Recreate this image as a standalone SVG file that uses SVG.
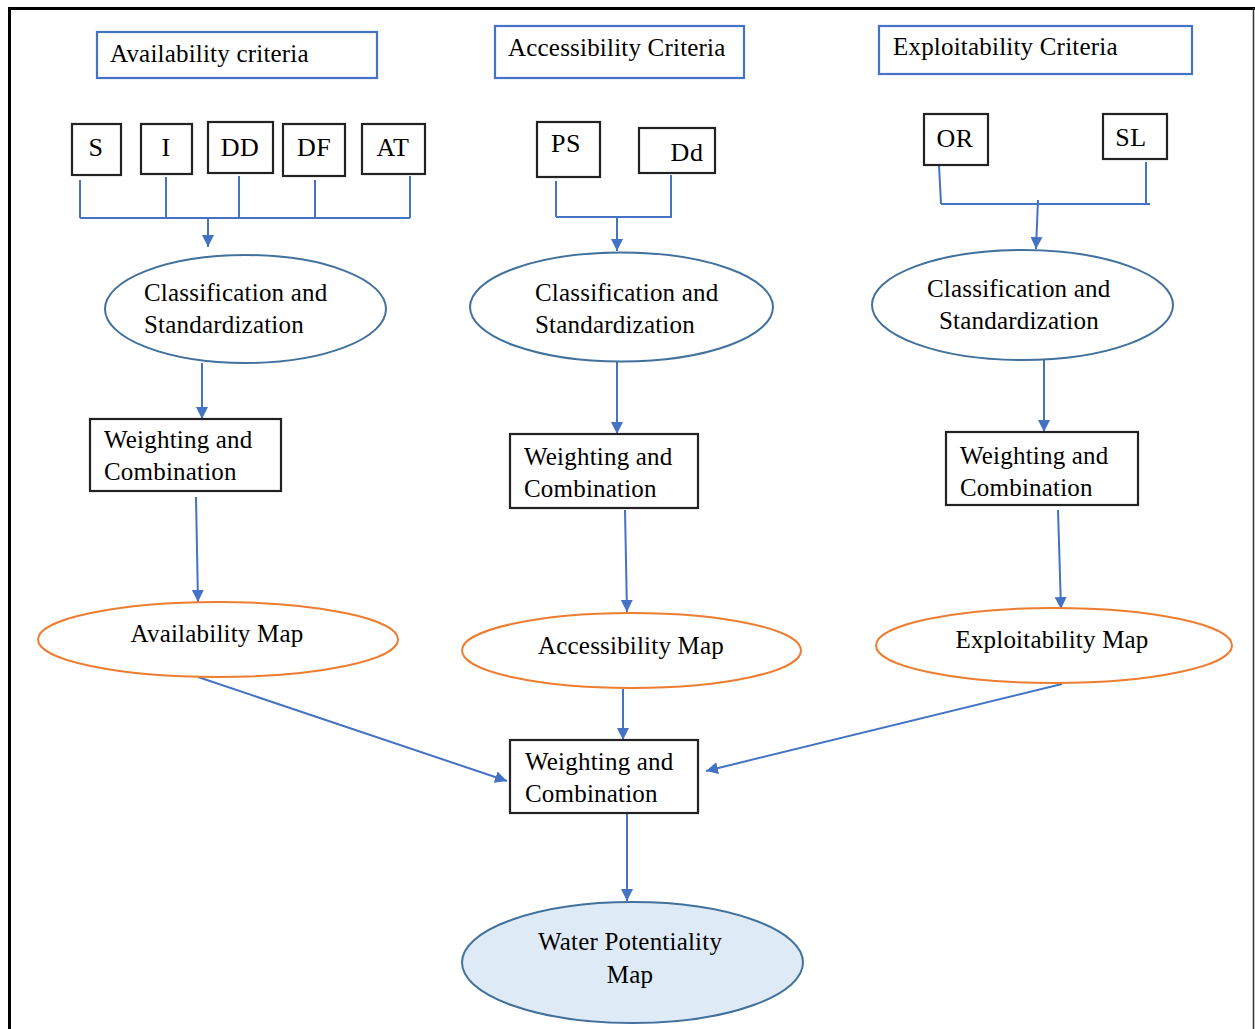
<svg xmlns="http://www.w3.org/2000/svg" width="1255" height="1029" viewBox="0 0 1255 1029">
<defs>
<marker id="ah" markerUnits="userSpaceOnUse" markerWidth="13" markerHeight="13" refX="12" refY="6.5" orient="auto">
<path d="M0,0.5 L12,6.5 L0,12.5 z" fill="#4472c4"/>
</marker>
<style>
text{font-family:"Liberation Serif","Times New Roman",serif;font-size:25px;letter-spacing:0.2px;fill:#000}
.sm{font-size:26px;letter-spacing:0.5px}
.crit{fill:#fff;stroke:#4472c4;stroke-width:2.2}
.box{fill:#fff;stroke:#222;stroke-width:2.2}
.cls{fill:#fff;stroke:#41719c;stroke-width:2}
.map{fill:#fff;stroke:#ed7d31;stroke-width:2}
.wp{fill:#deebf7;stroke:#41719c;stroke-width:2}
.ln{fill:none;stroke:#4472c4;stroke-width:2}
.ar{fill:none;stroke:#4472c4;stroke-width:2;marker-end:url(#ah)}
.c{text-anchor:middle}
</style>
</defs>
<rect width="1255" height="1029" fill="#fff"/>
<g id="frame">
<line x1="9.5" y1="7" x2="9.5" y2="1029" stroke="#000" stroke-width="3"/>
<line x1="8" y1="8.5" x2="1255" y2="8.5" stroke="#000" stroke-width="3"/>
<line x1="1253.5" y1="8" x2="1253.5" y2="1029" stroke="#333" stroke-width="1.5"/>
</g>
<g id="connectors">
<path class="ln" d="M80,180 V218 M166,177 V218 M239,176 V218 M315,180 V218 M410,176 V218 M80,218 H410"/>
<path class="ar" d="M208,218 V247"/>
<path class="ln" d="M556,181 V217 M671,175 V217 M556,217 H672"/>
<path class="ar" d="M617,217 V251"/>
<path class="ln" d="M939,165 L941,204 M1146,162 V204 M941,204 H1150"/>
<path class="ar" d="M1038,200 L1036,249"/>
<path class="ar" d="M202,363 V419"/>
<path class="ar" d="M617,362 V434"/>
<path class="ar" d="M1044,360 V432"/>
<path class="ar" d="M196,497 L198,602"/>
<path class="ar" d="M625,510 L627,612"/>
<path class="ar" d="M1058,510 L1061,609"/>
<path class="ar" d="M198,677 L507,781"/>
<path class="ar" d="M623,689 V740"/>
<path class="ar" d="M1062,684 L706,771"/>
<path class="ar" d="M627,814 V901"/>
</g>
<g id="availability-criteria"><rect class="crit" x="97" y="32" width="280" height="46"/><text x="110" y="62">Availability criteria</text></g>
<g id="accessibility-criteria"><rect class="crit" x="495" y="26" width="249" height="52"/><text x="508" y="56">Accessibility Criteria</text></g>
<g id="exploitability-criteria"><rect class="crit" x="879" y="26" width="313" height="48"/><text x="893" y="55">Exploitability Criteria</text></g>
<g id="S"><rect class="box" x="72" y="124" width="49" height="51"/><text class="c sm" x="96" y="156">S</text></g>
<g id="I"><rect class="box" x="141" y="124" width="51" height="50"/><text class="c sm" x="166" y="156">I</text></g>
<g id="DD"><rect class="box" x="208" y="122" width="65" height="51"/><text class="c sm" x="240" y="156">DD</text></g>
<g id="DF"><rect class="box" x="283" y="124" width="62" height="52"/><text class="c sm" x="314" y="156">DF</text></g>
<g id="AT"><rect class="box" x="362" y="124" width="63" height="50"/><text class="c sm" x="393" y="156">AT</text></g>
<g id="PS"><rect class="box" x="537" y="122" width="63" height="55"/><text class="c sm" x="566" y="152">PS</text></g>
<g id="Dd"><rect class="box" x="639" y="128" width="76" height="45"/><text class="c sm" x="687" y="161">Dd</text></g>
<g id="OR"><rect class="box" x="924" y="114" width="64" height="51"/><text class="c sm" x="955" y="147">OR</text></g>
<g id="SL"><rect class="box" x="1103" y="114" width="64" height="45"/><text class="c sm" x="1131" y="146">SL</text></g>
<g id="cls-left"><ellipse class="cls" cx="245.5" cy="309" rx="140.5" ry="54"/><text x="144" y="301">Classification and</text><text x="144" y="333">Standardization</text></g>
<g id="cls-mid"><ellipse class="cls" cx="621.5" cy="307" rx="151.5" ry="54.5"/><text x="535" y="301">Classification and</text><text x="535" y="333">Standardization</text></g>
<g id="cls-right"><ellipse class="cls" cx="1022.5" cy="305" rx="150.5" ry="55"/><text x="927" y="297">Classification and</text><text x="939" y="329">Standardization</text></g>
<g id="wc-left"><rect class="box" x="90" y="419" width="191" height="72"/><text x="104" y="448">Weighting and</text><text x="104" y="480">Combination</text></g>
<g id="wc-mid"><rect class="box" x="510" y="434" width="188" height="74"/><text x="524" y="465">Weighting and</text><text x="524" y="497">Combination</text></g>
<g id="wc-right"><rect class="box" x="946" y="432" width="192" height="73"/><text x="960" y="464">Weighting and</text><text x="960" y="496">Combination</text></g>
<g id="availability-map"><ellipse class="map" cx="218" cy="639.5" rx="180" ry="37.5"/><text class="c" x="217" y="642">Availability Map</text></g>
<g id="accessibility-map"><ellipse class="map" cx="631.5" cy="650.5" rx="169.5" ry="37.5"/><text class="c" x="631" y="654">Accessibility Map</text></g>
<g id="exploitability-map"><ellipse class="map" cx="1054" cy="645.5" rx="178" ry="37.5"/><text class="c" x="1052" y="648">Exploitability Map</text></g>
<g id="wc-final"><rect class="box" x="510" y="740" width="188" height="73"/><text x="525" y="770">Weighting and</text><text x="525" y="802">Combination</text></g>
<g id="water-potentiality-map"><ellipse class="wp" cx="632.5" cy="962.5" rx="170.5" ry="60.5"/><text class="c" x="630" y="950">Water Potentiality</text><text class="c" x="630" y="983">Map</text></g>
</svg>
